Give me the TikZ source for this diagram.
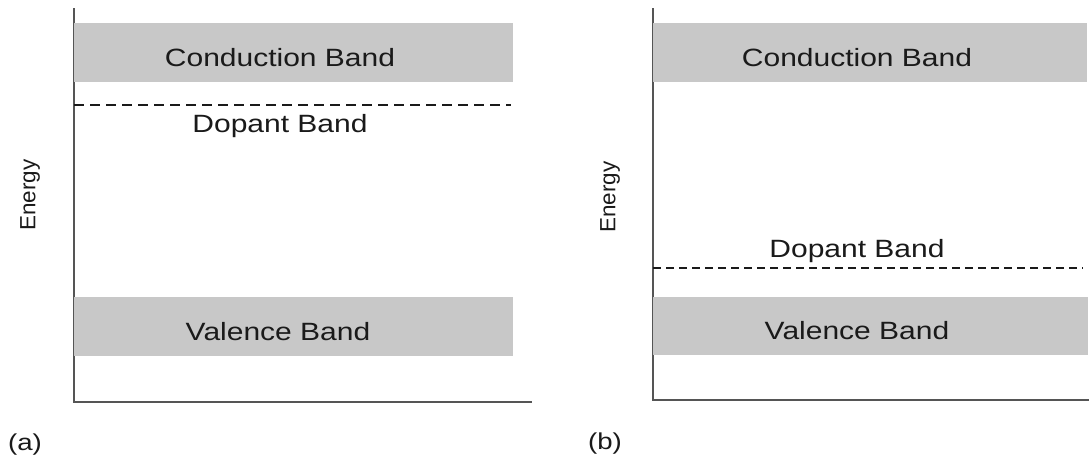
\documentclass[tikz,border=0pt]{standalone}
\usepackage{fontspec}
\setmainfont{Liberation Sans}[FakeStretch=1.2]
\newfontfamily\energyfont{Liberation Sans}[FakeStretch=1.02]
\begin{document}
\begin{tikzpicture}[x=1pt,y=-1pt,
  band/.style={fill=bandgray,draw=none},
  lbl/.style={text=ink,font=\fontsize{25}{30}\selectfont,anchor=base,inner sep=0pt},
  axislbl/.style={text=ink,font=\energyfont\fontsize{22}{26}\selectfont,rotate=90,inner sep=0pt},
  tag/.style={text=ink,font=\fontsize{23}{27}\selectfont,anchor=base west,inner sep=0pt},
  axisline/.style={draw=axisgray,line width=1.8pt},
  dopant/.style={draw=ink,line width=2.4pt,dash pattern=on 10pt off 6pt},
  dopantthin/.style={draw=ink,line width=1.7pt,dash pattern=on 8pt off 5pt}]
\definecolor{bandgray}{HTML}{C8C8C8}
\definecolor{ink}{HTML}{1A1A1A}
\definecolor{axisgray}{HTML}{555555}
\useasboundingbox (0,0) rectangle (1089,459);
\fill[white] (0,0) rectangle (1089,459);

% ---- panel (a): dopant level just below the conduction band ----
\coordinate (aTop) at (74,8);
\coordinate (aOrig) at (74,402);
\coordinate (aEnd) at (532,402);
\draw[axisline] (aTop) -- (aOrig) -- (aEnd);
\fill[band] (74,23) rectangle (513,82);
\fill[band] (74,297) rectangle (513,356);
\coordinate (aDopL) at (74,105);
\coordinate (aDopR) at (511,105);
\draw[dopant] (aDopL) -- (aDopR);
\node[lbl] (aCond) at (280,66) {Conduction Band};
\node[lbl] (aDop) at (280,132) {Dopant Band};
\node[lbl] (aVal) at (278,340) {Valence Band};
\node[axislbl] (aEnergy) at (30,195) {Energy};
\node[tag] (aTag) at (8,450) {(a)};

% ---- panel (b): dopant level just above the valence band ----
\coordinate (bTop) at (653,8);
\coordinate (bOrig) at (653,400);
\coordinate (bEnd) at (1089,400);
\draw[axisline] (bTop) -- (bOrig) -- (bEnd);
\fill[band] (653,23) rectangle (1087,82);
\fill[band] (653,297) rectangle (1088,355);
\coordinate (bDopL) at (653,268);
\coordinate (bDopR) at (1083,268);
\draw[dopantthin] (bDopL) -- (bDopR);
\node[lbl] (bCond) at (857,66) {Conduction Band};
\node[lbl] (bDop) at (857,257) {Dopant Band};
\node[lbl] (bVal) at (857,339) {Valence Band};
\node[axislbl] (bEnergy) at (610,197) {Energy};
\node[tag] (bTag) at (588,449) {(b)};
\end{tikzpicture}
\end{document}
